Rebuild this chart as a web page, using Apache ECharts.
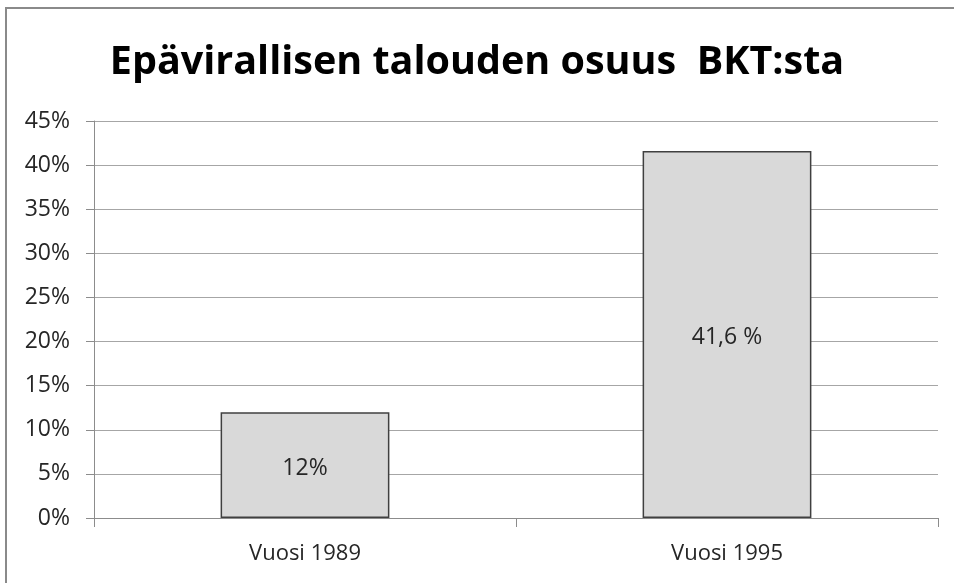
<!DOCTYPE html>
<html lang="fi">
<head>
    <meta charset="utf-8">
    <title>Epävirallisen talouden osuus BKT:sta</title>
    <script src="https://cdn.jsdelivr.net/npm/echarts@6/dist/echarts.min.js"></script>
    <style>
        html, body { margin: 0; padding: 0; background: #fff; }
        #chart { width: 954px; height: 583px; }
    </style>
</head>
<body>
    <div id="chart"></div>

    <script>
        // data
        const categories = ['Vuosi 1989', 'Vuosi 1995'];
        const shares = [12, 41.6];
        const barLabels = ['12%', '41,6 %'];
        const yTicks = [0, 5, 10, 15, 20, 25, 30, 35, 40, 45];

        const font = '"Open Sans", "Noto Sans", sans-serif';
        const chart = echarts.init(document.getElementById('chart'));

        const option = {
            backgroundColor: '#fff',
            animation: false,
            title: {
                text: 'Epävirallisen talouden osuus  BKT:sta',
                left: 'center',
                top: 38,
                textStyle: {
                    fontFamily: font,
                    fontWeight: 'bold',
                    fontSize: 39.5,
                    color: '#000'
                }
            },
            // outer frame (runs off the right and bottom edge, like the original)
            graphic: [{
                type: 'rect',
                shape: { x: 6, y: 8, width: 960, height: 590 },
                style: { fill: 'none', stroke: '#8a8a8a', lineWidth: 2 },
                silent: true
            }],
            grid: { left: 94, right: 16, top: 121, bottom: 65 },
            xAxis: {
                type: 'category',
                data: categories,
                axisLine: { lineStyle: { color: '#8c8c8c', width: 1 } },
                axisTick: { show: true, length: 9, lineStyle: { color: '#8c8c8c' } },
                axisLabel: {
                    fontFamily: font,
                    fontSize: 22,
                    color: '#262626',
                    margin: 25
                }
            },
            yAxis: {
                type: 'value',
                min: yTicks[0],
                max: yTicks[yTicks.length - 1],
                interval: 5,
                axisLine: { show: true, lineStyle: { color: '#8c8c8c', width: 1 } },
                axisTick: { show: true, length: 8, lineStyle: { color: '#8c8c8c' } },
                splitLine: { lineStyle: { color: '#a6a6a6', width: 1 } },
                axisLabel: {
                    fontFamily: font,
                    fontSize: 23,
                    color: '#262626',
                    margin: 24,
                    formatter: v => v + '%'
                }
            },
            series: [{
                type: 'bar',
                data: shares,
                barWidth: '40%',
                itemStyle: {
                    color: '#d9d9d9',
                    borderColor: '#404040',
                    borderWidth: 1.5
                },
                label: {
                    show: true,
                    position: 'inside',
                    offset: [0, 3],
                    fontFamily: font,
                    fontSize: 23,
                    color: '#262626',
                    formatter: p => barLabels[p.dataIndex]
                }
            }]
        };

        chart.setOption(option);
    </script>
</body>
</html>
